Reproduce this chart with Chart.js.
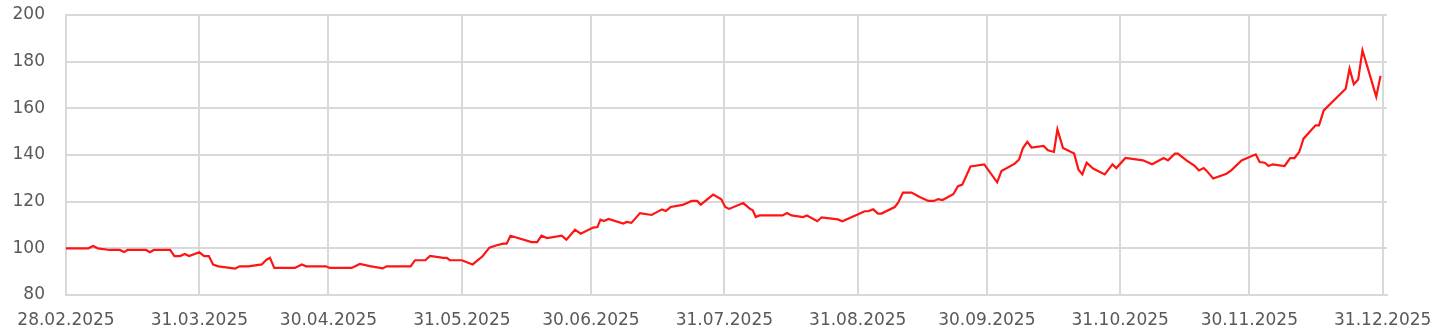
<!DOCTYPE html>
<html>
<head>
<meta charset="utf-8">
<script src="https://cdn.jsdelivr.net/npm/chart.js@4/dist/chart.umd.min.js"></script>
<style>
  html, body { margin: 0; padding: 0; background: #ffffff; }
  #wrap { width: 1435px; height: 334px; position: relative; }
</style>
</head>
<body>
<div id="wrap"><canvas id="c" width="1435" height="334"></canvas></div>
<script>
// Days elapsed since 28.02.2025 for each observation
const days = [0,5.2,6.3,7.4,10.2,12.5,13.5,14.3,18.6,19.5,20.4,24.2,25.2,26.5,27.6,28.6,31,32.1,33.2,34.2,35.4,38.1,39.3,40.3,42.4,45.5,46.6,47.4,48.4,53.2,54.8,55.8,60.4,61.3,66.4,68.3,70.6,73.6,74.5,80.1,81.1,83.5,84.6,87.7,88.5,89.2,92,94.5,96.8,98.4,100.1,101.6,102.4,103.3,108.2,109.5,110.5,111.8,115.2,116.3,118.3,119.6,122.5,123.5,124.2,125,126.1,129.5,130.3,131.4,133.4,136.1,138.5,139.4,140.5,143.3,145.4,146.7,147.5,150.4,152.3,153.2,154.1,157.4,158.9,159.6,160.3,161.2,166.5,167.6,168.6,171.3,172.2,174.6,175.6,179.4,180.4,184.1,185.6,186.4,187.6,188.7,189.5,192.6,193.4,194.5,196.5,198.4,200.4,201.7,202.7,203.7,206.2,207.3,208.3,210.2,213.4,216.4,217.4,220.5,221.5,222.4,223.4,224.4,227.2,228.2,229.6,230.4,231.7,234.3,235.3,236.2,237.2,238.7,241.4,243.2,244.1,246.2,250.3,252.4,255.1,256.1,257.7,258.4,260.4,262.3,263.3,264.4,265,266.6,269.7,270.8,273.2,276.5,277.4,278.6,279.5,280.4,283.2,284.5,285.5,286.6,287.6,290.4,291.2,292.3,297.4,298.3,299.3,300.3,301.3,304.5,305.5];
// Index values
const values = [100,100,101,100,99.3,99.3,98.4,99.3,99.3,98.3,99.3,99.3,96.7,96.7,97.6,96.7,98.3,96.7,96.7,93,92.3,91.6,91.3,92.3,92.3,93.1,95.1,95.9,91.6,91.6,93.1,92.3,92.3,91.6,91.6,93.3,92.4,91.4,92.3,92.3,94.9,94.9,96.7,95.9,95.9,94.9,94.9,93.1,96.6,100.3,101.3,102,102,105.4,102.7,102.7,105.4,104.4,105.4,103.7,108,106.3,108.9,109.1,112.3,111.7,112.6,110.6,111.3,110.9,115.1,114.3,116.7,116,117.7,118.6,120.3,120.3,118.7,123,121,117.7,116.9,119.4,117,116.3,113.4,114.1,114.1,115.1,114.1,113.4,114.1,111.6,113.3,112.4,111.6,114.6,115.9,115.9,116.7,114.9,114.9,117.7,119.6,123.9,123.9,122,120.3,120.3,121.1,120.7,123.2,126.6,127.3,135.1,136,128.3,133.1,136.3,138.1,143,145.6,143.2,143.9,142,141.3,151,143,140.6,133.7,131.7,136.7,134.2,131.7,136,134.4,138.7,137.7,136,138.7,137.7,140.6,140.6,137.7,135.3,133.4,134.4,133.4,129.9,132,133.4,137.7,140.3,137,136.7,135.3,136,135.3,138.7,138.7,141.3,147,152.7,152.7,159.1,168.4,177,170.3,172.4,184.9,165,173.9];
// X-axis ticks (days since 28.02.2025) and their labels
const tickDays = [0,31,61,92,122,153,184,214,245,275,306];
const tickLabels = ["28.02.2025","31.03.2025","30.04.2025","31.05.2025","30.06.2025","31.07.2025","31.08.2025","30.09.2025","31.10.2025","30.11.2025","31.12.2025"];
// Y-axis range
const yMin = 80, yMax = 200, yStep = 20;

const points = days.map((d, i) => ({ x: d, y: values[i] }));
const gridColor = '#d9d9d9';
const tickFont = { family: 'DejaVu Sans', size: 17 };
const tickColor = '#595959';

function zeroPad(scale) {
  scale.paddingLeft = 0; scale.paddingRight = 0;
  scale.paddingTop = 0; scale.paddingBottom = 0;
}

new Chart(document.getElementById('c'), {
  type: 'line',
  data: {
    datasets: [{
      data: points,
      borderColor: '#ff1414',
      borderWidth: 2.2,
      pointRadius: 0,
      pointHoverRadius: 0,
      tension: 0,
      fill: false
    }]
  },
  options: {
    responsive: false,
    animation: false,
    events: [],
    layout: { padding: { top: 15, right: 48, bottom: 0, left: 0 } },
    plugins: { legend: { display: false }, tooltip: { enabled: false } },
    scales: {
      x: {
        type: 'linear',
        min: 0,
        max: 307,
        afterBuildTicks: (scale) => { scale.ticks = tickDays.map(v => ({ value: v })); },
        afterFit: (scale) => { scale.height = 39; zeroPad(scale); },
        ticks: {
          autoSkip: false,
          maxRotation: 0,
          minRotation: 0,
          padding: 15,
          color: tickColor,
          font: tickFont,
          callback: (v) => { const i = tickDays.indexOf(v); return i >= 0 ? tickLabels[i] : ''; }
        },
        grid: { color: gridColor, lineWidth: 2, drawTicks: false },
        border: { color: gridColor, width: 2 }
      },
      y: {
        min: yMin,
        max: yMax,
        afterFit: (scale) => { scale.width = 66; zeroPad(scale); },
        ticks: {
          stepSize: yStep,
          padding: 21,
          color: tickColor,
          font: tickFont
        },
        grid: { color: gridColor, lineWidth: 2, drawTicks: false },
        border: { color: gridColor, width: 2 }
      }
    }
  }
});
</script>
</body>
</html>
